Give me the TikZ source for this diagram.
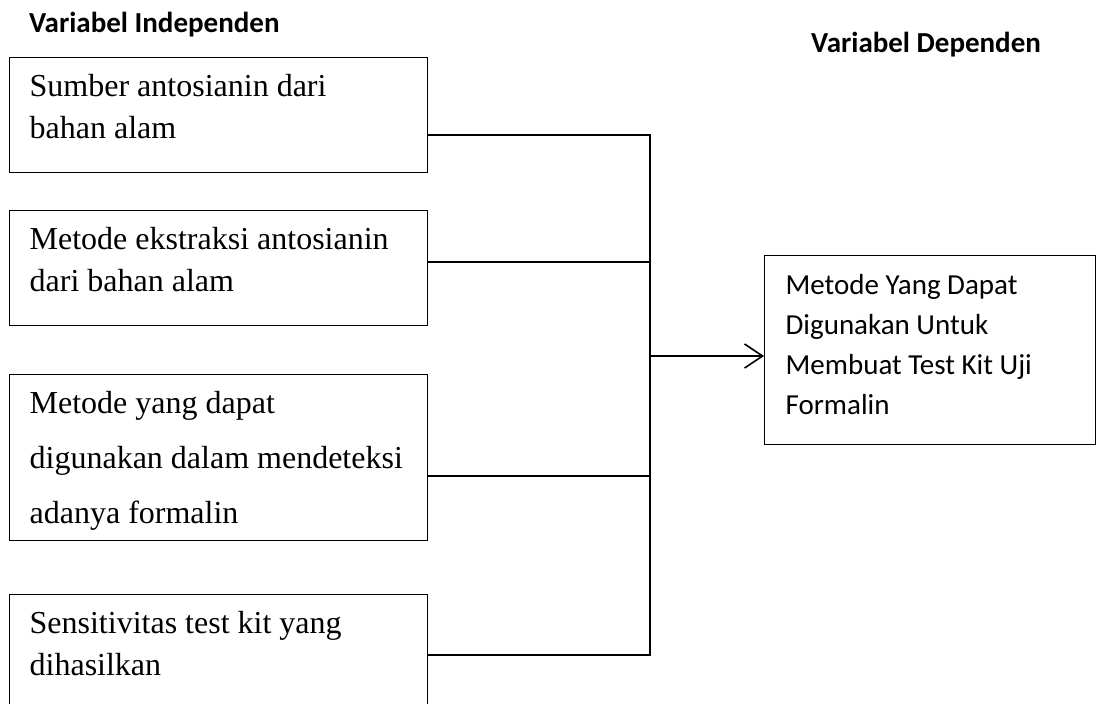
\documentclass[tikz,border=0pt]{standalone}
\usepackage{fontspec}
\setmainfont{Liberation Serif}
\newfontfamily\calibri{Carlito}
\usetikzlibrary{arrows.meta}
\newcommand{\boxlines}[3]{\parbox[t][#1][t]{#2}{\rule{0pt}{39pt}#3}}

\begin{document}
\begin{tikzpicture}[x=1pt,y=1pt,
  ibox/.style={draw, line width=1.3pt, anchor=north west, inner xsep=20pt, inner ysep=0pt, font=\fontsize{32}{42}\selectfont},
  dbox/.style={draw, line width=1.3pt, anchor=north west, inner xsep=21pt, inner ysep=0pt, font=\calibri\fontsize{29}{40}\selectfont},
  head/.style={anchor=base west, inner sep=0pt, font=\calibri\bfseries\fontsize{29}{35}\selectfont},
  link/.style={line width=2pt}]
\useasboundingbox (0,0) rectangle (1096,-704);
\clip (0,0) rectangle (1096,-704);

\node[head] (indep) at (29,-32) {Variabel Independen};
\node[head] (dep) at (811,-52) {Variabel Dependen};

% variabel independen
\node[ibox] (src) at (9,-57) {\boxlines{115pt}{378pt}{Sumber antosianin dari\\bahan alam}};
\node[ibox] (ext) at (9,-210) {\boxlines{115pt}{378pt}{Metode ekstraksi antosianin\\dari bahan alam}};
\node[ibox] (det) at (9,-374) {\boxlines{166pt}{378pt}{Metode yang dapat\\[13pt]digunakan dalam mendeteksi\\[13pt]adanya formalin}};
\node[ibox] (sens) at (9,-594) {\boxlines{130pt}{378pt}{Sensitivitas test kit yang\\dihasilkan}};

% variabel dependen
\node[dbox] (res) at (764,-255) {\boxlines{189pt}{289pt}{Metode Yang Dapat\\Digunakan Untuk\\Membuat Test Kit Uji\\Formalin}};

\coordinate (j1) at (650,-135);
\coordinate (j2) at (650,-262);
\coordinate (j3) at (650,-476);
\coordinate (j4) at (650,-655);
\coordinate (jo) at (650,-356);

\draw[link] (src.east |- j1) -- (j1) -- (j4) -- (sens.east |- j4);
\draw[link] (ext.east |- j2) -- (j2);
\draw[link] (det.east |- j3) -- (j3);
\draw[link,-{Straight Barb[length=18pt,width=24pt,line width=1.6pt]}] (jo) -- (jo -| res.west);
\end{tikzpicture}
\end{document}
